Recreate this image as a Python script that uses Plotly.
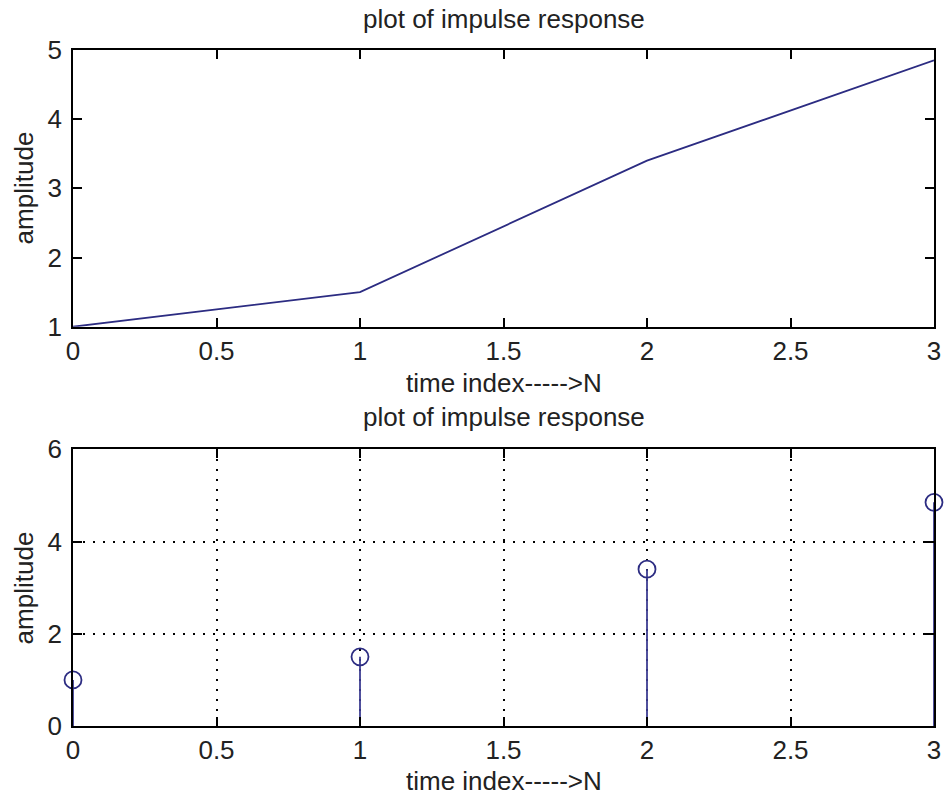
import plotly.graph_objects as go

# impulse response samples
n = [0, 1, 2, 3]
h = [1.0, 1.5, 3.4, 4.85]

x_ticks = [0, 0.5, 1, 1.5, 2, 2.5, 3]
x_tick_labels = ["0", "0.5", "1", "1.5", "2", "2.5", "3"]
y_ticks_top = [1, 2, 3, 4, 5]
y_ticks_bottom = [0, 2, 4, 6]

title_text = "plot of impulse response"
xlabel_text = "time index----->N"
ylabel_text = "amplitude"

FONT = "Liberation Sans"
FS = 26
TEXT_C = "#222222"
LINE_C = "#2c2c82"
STEM_C = "#3d3d92"

W, H = 949, 797
L, R, T, B = 73, 8, 50, 71
PH = H - T - B


def py(pix):
    """pixel row -> paper y"""
    return (H - B - pix) / PH


def px(pix):
    return (pix - L) / (W - L - R)


fig = go.Figure()

# continuous line plot
fig.add_trace(go.Scatter(x=n, y=h, mode="lines",
                         line=dict(color=LINE_C, width=1.8),
                         xaxis="x", yaxis="y", showlegend=False))

# stem plot: vertical stems from zero, then open circles
sx, sy = [], []
for xi, yi in zip(n, h):
    sx += [xi, xi, None]
    sy += [0, yi, None]
fig.add_trace(go.Scatter(x=sx, y=sy, mode="lines",
                         line=dict(color=STEM_C, width=1.8),
                         xaxis="x2", yaxis="y2", showlegend=False,
                         cliponaxis=False))
fig.add_trace(go.Scatter(x=n, y=h, mode="markers",
                         marker=dict(symbol="circle-open", size=17,
                                     color=LINE_C, line=dict(width=1.8, color=LINE_C)),
                         xaxis="x2", yaxis="y2", showlegend=False,
                         cliponaxis=False))

axis_common = dict(
    showline=True, linecolor="black", linewidth=1.5, mirror="ticks",
    ticks="inside", ticklen=9, tickwidth=1.5, tickcolor="black",
    tickfont=dict(family=FONT, size=FS, color=TEXT_C),
    zeroline=False, fixedrange=True,
)

top_lo = py(326.7)
bot_hi = py(449.3)

fig.update_layout(
    width=W, height=H,
    margin=dict(l=L, r=R, t=T, b=B),
    paper_bgcolor="white", plot_bgcolor="white",
    xaxis=dict(domain=[0, 1], anchor="y", range=[0, 3],
               tickvals=x_ticks, ticktext=x_tick_labels,
               showgrid=False, ticklabelstandoff=0, **axis_common),
    yaxis=dict(domain=[top_lo, 1], anchor="x", range=[1, 5],
               tickvals=y_ticks_top, showgrid=False,
               ticklabelstandoff=4, **axis_common),
    xaxis2=dict(domain=[0, 1], anchor="y2", range=[0, 3],
                tickvals=x_ticks, ticktext=x_tick_labels,
                showgrid=True, gridcolor="black", gridwidth=1.5,
                griddash="2px,8px", ticklabelstandoff=0, **axis_common),
    yaxis2=dict(domain=[0, bot_hi], anchor="x2", range=[0, 6],
                tickvals=y_ticks_bottom,
                showgrid=True, gridcolor="black", gridwidth=1.5,
                griddash="2px,8px", ticklabelstandoff=4, **axis_common),
)

ann_font = dict(family=FONT, size=FS, color=TEXT_C)
cx = 0.5
annotations = [
    dict(text=title_text, x=cx, y=py(19)),
    dict(text=xlabel_text, x=cx, y=py(383)),
    dict(text=title_text, x=cx, y=py(417)),
    dict(text=xlabel_text, x=cx, y=py(781)),
    dict(text=ylabel_text, x=px(24), y=py(188), textangle=-90),
    dict(text=ylabel_text, x=px(24), y=py(588), textangle=-90),
]
for a in annotations:
    fig.add_annotation(xref="paper", yref="paper", showarrow=False,
                       xanchor="center", yanchor="middle",
                       font=ann_font, **a)

fig.write_html("out.html")
